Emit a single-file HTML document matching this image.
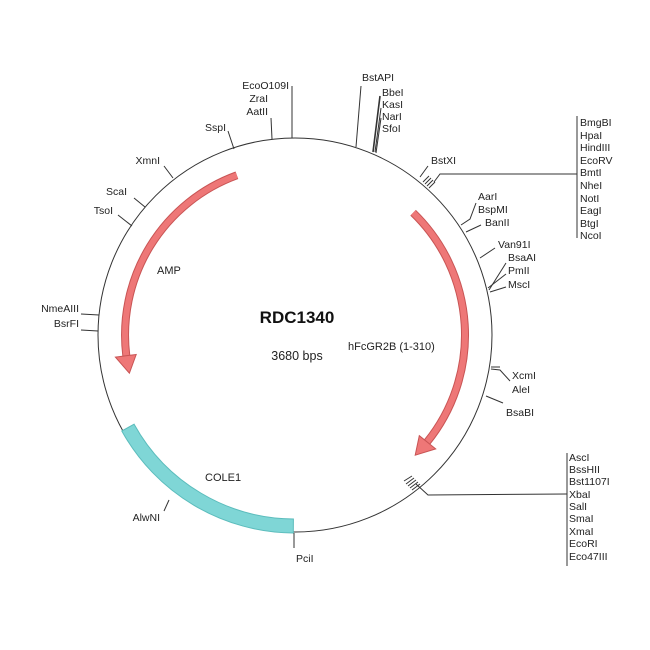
<!DOCTYPE html>
<html><head><meta charset="utf-8"><style>
html,body{margin:0;padding:0;background:#fff;}
svg{display:block;}
text{font-family:"Liberation Sans",sans-serif;font-size:10.5px;fill:#222;}
</style></head><body>
<svg width="650" height="650" viewBox="0 0 650 650" xmlns="http://www.w3.org/2000/svg">
<rect width="650" height="650" fill="#fff"/>
<circle cx="295" cy="335" r="197" fill="none" stroke="#333" stroke-width="1"/>
<!-- COLE1 -->
<path d="M121.8,431 A198,198 0 0 0 293.3,533 L293.4,519 A184,184 0 0 1 134.1,424.2 Z" fill="#7fd6d6" stroke="#5bbcbc" stroke-width="1"/>
<!-- AMP arrow -->
<path d="M236.9,175.3 A170,170 0 0 0 126.3,355.7" fill="none" stroke="#c85454" stroke-width="8"/>
<path d="M236.9,175.3 A170,170 0 0 0 126.3,355.7" fill="none" stroke="#ee7777" stroke-width="6"/>
<polygon points="136.2,354.5 115.4,357.1 129.4,373.2" fill="#ee7777" stroke="#c85454" stroke-width="1"/>
<!-- hFcGR2B arrow -->
<path d="M413.1,212.7 A170,170 0 0 1 427.1,442" fill="none" stroke="#c85454" stroke-width="8"/>
<path d="M413.1,212.7 A170,170 0 0 1 427.1,442" fill="none" stroke="#ee7777" stroke-width="6"/>
<polygon points="419.3,435.7 435.7,448.9 415.2,455.2" fill="#ee7777" stroke="#c85454" stroke-width="1"/>

<g stroke="#333" stroke-width="1" fill="none">
<line x1="292" y1="138" x2="292" y2="86"/>
<line x1="272" y1="139" x2="271" y2="118"/>
<line x1="234" y1="149" x2="228" y2="131"/>
<line x1="173" y1="178" x2="164" y2="166"/>
<line x1="145" y1="207" x2="134" y2="198"/>
<line x1="132" y1="226" x2="118" y2="215"/>
<line x1="99" y1="315" x2="81" y2="314"/>
<line x1="98" y1="331" x2="81" y2="330"/>
<line x1="169" y1="500" x2="164" y2="511"/>
<line x1="294" y1="533" x2="294" y2="548"/>
<line x1="356" y1="147" x2="361" y2="86"/>
<line x1="373" y1="152" x2="380" y2="96" stroke-width="1.6"/>
<line x1="375" y1="152" x2="381" y2="108"/>
<line x1="376" y1="153" x2="381" y2="118"/>
<line x1="420" y1="177" x2="428" y2="166"/>
<line x1="423" y1="182" x2="429" y2="176"/>
<line x1="425" y1="184" x2="431" y2="178"/>
<line x1="427" y1="186" x2="433" y2="180"/>
<line x1="429" y1="188" x2="435" y2="182"/>
<polyline points="434,182 440,174 577,174"/>
<line x1="577" y1="116" x2="577" y2="238"/>
<polyline points="461,225 470,219 476,203"/>
<line x1="466" y1="232" x2="481" y2="225"/>
<line x1="480" y1="258" x2="495" y2="248"/>
<line x1="488" y1="288" x2="506" y2="274"/>
<line x1="489" y1="290" x2="506" y2="263"/>
<line x1="490" y1="292" x2="506" y2="287"/>
<line x1="491" y1="367" x2="500" y2="367"/>
<polyline points="491,369 500,370 510,381"/>
<line x1="486" y1="396" x2="503" y2="403"/>
<line x1="404" y1="481" x2="412" y2="476"/>
<line x1="406" y1="484" x2="414" y2="478"/>
<line x1="408" y1="486" x2="416" y2="480"/>
<line x1="410" y1="488" x2="418" y2="482"/>
<line x1="412" y1="490" x2="420" y2="484"/>
<polyline points="416,484 428,495 567,494"/>
<line x1="567" y1="453" x2="567" y2="566"/>
</g>

<g text-anchor="end">
<text x="289" y="89">EcoO109I</text>
<text x="268" y="102">ZraI</text>
<text x="268" y="115">AatII</text>
<text x="226" y="131">SspI</text>
<text x="160" y="164">XmnI</text>
<text x="127" y="195">ScaI</text>
<text x="113" y="214">TsoI</text>
<text x="79" y="312">NmeAIII</text>
<text x="79" y="327">BsrFI</text>
<text x="160" y="521">AlwNI</text>
</g>
<text x="296" y="562">PciI</text>
<text x="362" y="81">BstAPI</text>
<text x="382" y="96">BbeI</text>
<text x="382" y="108">KasI</text>
<text x="382" y="120">NarI</text>
<text x="382" y="132">SfoI</text>
<text x="431" y="164">BstXI</text>
<g>
<text x="580" y="126">BmgBI</text>
<text x="580" y="139">HpaI</text>
<text x="580" y="151">HindIII</text>
<text x="580" y="164">EcoRV</text>
<text x="580" y="176">BmtI</text>
<text x="580" y="189">NheI</text>
<text x="580" y="202">NotI</text>
<text x="580" y="214">EagI</text>
<text x="580" y="227">BtgI</text>
<text x="580" y="239">NcoI</text>
</g>
<text x="478" y="200">AarI</text>
<text x="478" y="213">BspMI</text>
<text x="485" y="226">BanII</text>
<text x="498" y="248">Van91I</text>
<text x="508" y="261">BsaAI</text>
<text x="508" y="274">PmII</text>
<text x="508" y="288">MscI</text>
<text x="512" y="379">XcmI</text>
<text x="512" y="393">AleI</text>
<text x="506" y="416">BsaBI</text>
<g>
<text x="569" y="461">AscI</text>
<text x="569" y="473">BssHII</text>
<text x="569" y="485">Bst1107I</text>
<text x="569" y="498">XbaI</text>
<text x="569" y="510">SalI</text>
<text x="569" y="522">SmaI</text>
<text x="569" y="535">XmaI</text>
<text x="569" y="547">EcoRI</text>
<text x="569" y="560">Eco47III</text>
</g>
<text x="297" y="323" text-anchor="middle" style="font-size:17px;font-weight:bold;fill:#111">RDC1340</text>
<text x="297" y="360" text-anchor="middle" style="font-size:12.5px">3680 bps</text>
<text x="348" y="350" style="font-size:11px">hFcGR2B (1-310)</text>
<text x="157" y="274" style="font-size:11px">AMP</text>
<text x="205" y="481" style="font-size:11px">COLE1</text>
</svg>
</body></html>
